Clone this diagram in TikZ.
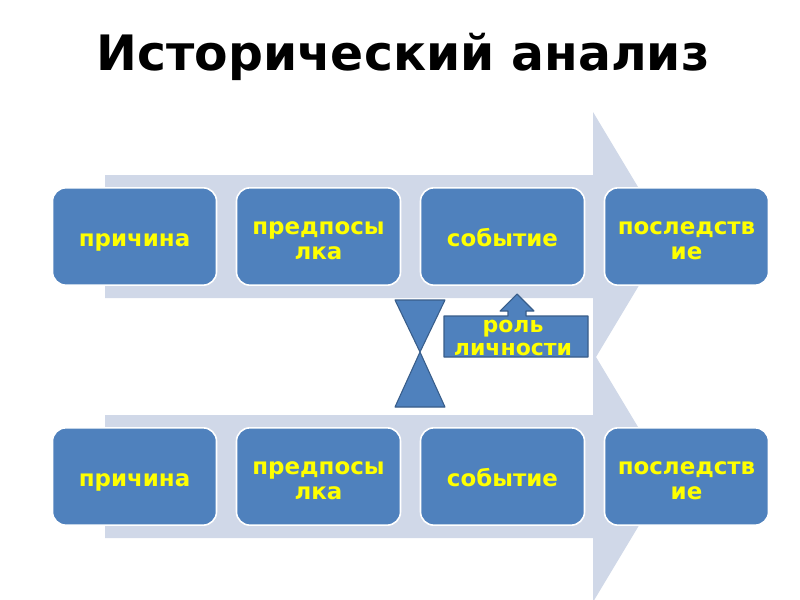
\documentclass[tikz,border=0pt]{standalone}
\usepackage{fontspec}
\setmainfont{DejaVu Sans}
\usepackage{xcolor}
\usepackage{tikz}
\definecolor{boxblue}{HTML}{4F81BD}
\definecolor{edgeblue}{HTML}{385D8A}
\definecolor{flowgray}{HTML}{D0D8E8}
\definecolor{labelyellow}{HTML}{FFFF00}

\tikzset{
  stage/.style={fill=boxblue, draw=white, line width=1.2pt, rounded corners=10pt,
                minimum width=123pt, minimum height=73pt, text width=118pt, align=center,
                inner sep=0pt, text=labelyellow, font=\bfseries\fontsize{17.2}{18.75}\selectfont,
                execute at begin node=\rule{0pt}{21pt}, execute at end node=\strut},
  flow/.style={fill=flowgray},
  sandglass/.style={fill=boxblue, draw=edgeblue, line width=0.8pt, line join=round}
}

\begin{document}
\begin{tikzpicture}[x=0.75pt, y=-0.75pt]
  \useasboundingbox[fill=white] (0,0) rectangle (800,600);

  \node[font=\bfseries\fontsize{36.6}{40}\selectfont] (title) at (403,57) {Исторический анализ};

  \fill[flow] (105,175) -- (593,175) -- (593,112) -- (668,237) -- (593,362) -- (593,298) -- (105,298) -- cycle;
  \fill[flow] (105,415) -- (593,415) -- (593,352) -- (668,477) -- (593,602) -- (593,538) -- (105,538) -- cycle;

  \node[stage] (causeA)  at (134.5,236.5) {причина};
  \node[stage] (preA)    at (318.5,236.5) {предпосы\\лка};
  \node[stage] (eventA)  at (502.5,236.5) {событие};
  \node[stage] (resultA) at (686.5,236.5) {последств\\ие};

  \node[stage] (causeB)  at (134.5,476.5) {причина};
  \node[stage] (preB)    at (318.5,476.5) {предпосы\\лка};
  \node[stage] (eventB)  at (502.5,476.5) {событие};
  \node[stage] (resultB) at (686.5,476.5) {последств\\ие};

  \draw[sandglass] (395,300) -- (445,300) -- (420,352) -- cycle;
  \draw[sandglass] (420,352) -- (445,407) -- (395,407) -- cycle;

  \draw[sandglass] (444,316) -- (508,316) -- (508,311) -- (500,311) -- (517,294) -- (534,311)
    -- (526,311) -- (526,316) -- (588,316) -- (588,357) -- (444,357) -- cycle;
  \node[text=labelyellow, font=\bfseries\fontsize{16.5}{17.3}\selectfont, align=center, inner sep=0pt]
    (role) at (513,338) {роль\\личности};
\end{tikzpicture}
\end{document}
